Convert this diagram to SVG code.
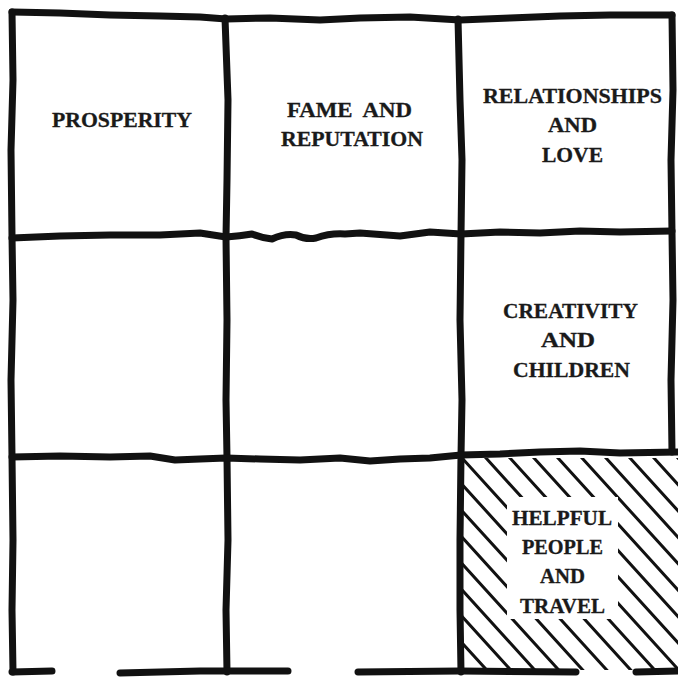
<svg xmlns="http://www.w3.org/2000/svg" width="678" height="680" viewBox="0 0 678 680">
<style>
  .wall { fill: none; stroke: #111; stroke-width: 7; stroke-linejoin: round; stroke-linecap: round; }
  .hatch { stroke: #111; stroke-width: 3; stroke-linecap: round; }
  .lbl { font-family: "Liberation Serif", "Times New Roman", serif; font-weight: bold; font-size: 20px; fill: #1a1a1a; stroke: #1a1a1a; stroke-width: 0.3; }
</style>
<defs>
  <clipPath id="cellClip"><rect x="463" y="458" width="215" height="212"/></clipPath>
</defs>
<rect x="0" y="0" width="678" height="680" fill="#ffffff"/>

<g id="connectors">
  <path class="wall" d="M12,12 L60,13 L110,15 L160,16 L200,17 L226,19 L270,18 L320,20 L360,18 L410,17 L460,20 L510,18 L560,16 L610,15 L672,15"/>
  <path class="wall" d="M12,12 L13,80 L11,150 L12,236 L13,300 L11,380 L12,457 L13,540 L12,610 L13,672"/>
  <path class="wall" d="M225,18 L228,100 L227,180 L226,237 L227,320 L226,400 L227,458 L228,540 L226,610 L227,672"/>
  <path class="wall" d="M458,19 L460,100 L462,160 L461,235 L460,320 L462,400 L461,456 L460,540 L460,610 L461,672"/>
  <path class="wall" d="M672,15 L673,90 L671,160 L672,233 L673,300 L671,380 L672,452"/>
  <path class="wall" d="M12,238 L60,236 L110,235 L160,235 L200,233 L226,237 Q240,236 252,234 Q262,238 272,239 Q285,233 296,235 Q306,240 316,238 Q330,233 345,234 L360,233 L400,236 L430,232 L461,234 L500,232 L540,233 L580,231 L620,232 L672,231"/>
  <path class="wall" d="M12,457 L60,456 L110,457 L150,456 L175,460 L200,459 L226,458 L260,459 L300,460 L340,458 L370,461 L400,459 L430,458 L461,455 L500,454 L540,452 L580,451 L620,453 L678,452"/>
  <path class="wall" d="M12,672 L52,671"/>
  <path class="wall" d="M120,673 L200,671 L288,671"/>
  <path class="wall" d="M358,672 L460,671 L576,672"/>
  <path class="wall" d="M636,672 L678,671"/>
</g>

<g id="prosperity">
  <text class="lbl" x="52" y="127" textLength="140" lengthAdjust="spacingAndGlyphs">PROSPERITY</text>
</g>
<g id="fame">
  <text class="lbl" x="287" y="117" textLength="125" lengthAdjust="spacingAndGlyphs">FAME&#160; AND</text>
  <text class="lbl" x="281" y="146" textLength="142" lengthAdjust="spacingAndGlyphs">REPUTATION</text>
</g>
<g id="relationships">
  <text class="lbl" x="483" y="103" textLength="179" lengthAdjust="spacingAndGlyphs">RELATIONSHIPS</text>
  <text class="lbl" x="548" y="132" textLength="49" lengthAdjust="spacingAndGlyphs">AND</text>
  <text class="lbl" x="542" y="162" textLength="61" lengthAdjust="spacingAndGlyphs">LOVE</text>
</g>
<g id="creativity">
  <text class="lbl" x="503" y="318" textLength="135" lengthAdjust="spacingAndGlyphs">CREATIVITY</text>
  <text class="lbl" x="541" y="347" textLength="54" lengthAdjust="spacingAndGlyphs">AND</text>
  <text class="lbl" x="513" y="377" textLength="117" lengthAdjust="spacingAndGlyphs">CHILDREN</text>
</g>
<g id="helpful">
  <g clip-path="url(#cellClip)">
    <path class="hatch" d="M46,238 L496,733 M70,238 L520,733 M94,238 L544,733 M118,238 L568,733 M142,238 L592,733 M166,238 L616,733 M190,238 L640,733 M214,238 L664,733 M238,238 L688,733 M262,238 L712,733 M286,238 L736,733 M310,238 L760,733 M334,238 L784,733 M358,238 L808,733 M382,238 L832,733 M406,238 L856,733 M430,238 L880,733 M454,238 L904,733 M478,238 L928,733"/>
    <rect x="507" y="497" width="111" height="122" fill="#ffffff"/>
  </g>
  <text class="lbl" x="512" y="525" textLength="100" lengthAdjust="spacingAndGlyphs">HELPFUL</text>
  <text class="lbl" x="522" y="554" textLength="81" lengthAdjust="spacingAndGlyphs">PEOPLE</text>
  <text class="lbl" x="540" y="583" textLength="45" lengthAdjust="spacingAndGlyphs">AND</text>
  <text class="lbl" x="520" y="613" textLength="85" lengthAdjust="spacingAndGlyphs">TRAVEL</text>
</g>
</svg>
